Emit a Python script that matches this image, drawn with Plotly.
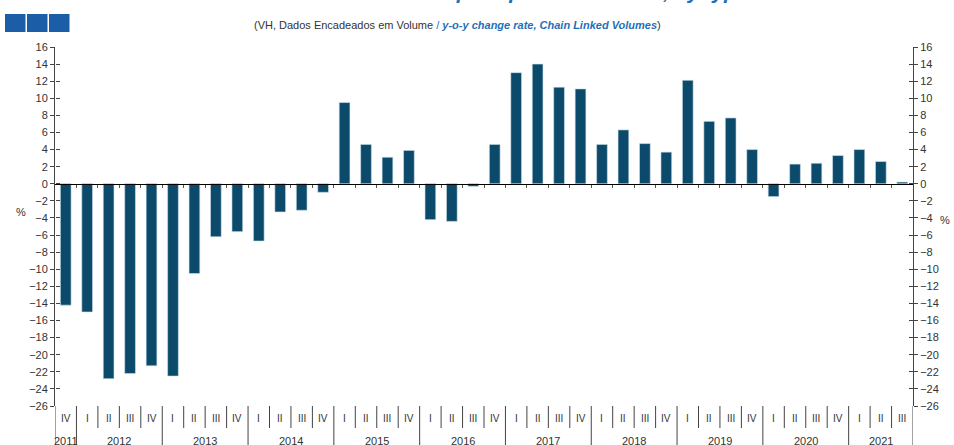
import plotly.graph_objects as go

years = ["2011", "2012", "2013", "2014", "2015", "2016", "2017", "2018", "2019", "2020", "2021"]
quarters = ["IV",
            "I", "II", "III", "IV",
            "I", "II", "III", "IV",
            "I", "II", "III", "IV",
            "I", "II", "III", "IV",
            "I", "II", "III", "IV",
            "I", "II", "III", "IV",
            "I", "II", "III", "IV",
            "I", "II", "III", "IV",
            "I", "II", "III", "IV",
            "I", "II", "III"]
values = [-14.2,
          -15.0, -22.8, -22.2, -21.3,
          -22.5, -10.5, -6.2, -5.6,
          -6.7, -3.3, -3.1, -1.0,
          9.5, 4.6, 3.1, 3.9,
          -4.2, -4.4, -0.3, 4.6,
          13.0, 14.0, 11.3, 11.1,
          4.6, 6.3, 4.7, 3.7,
          12.1, 7.3, 7.7, 4.0,
          -1.5, 2.3, 2.4, 3.3,
          4.0, 2.6, 0.2]
y_ticks = list(range(-26, 17, 2))

W, H = 954, 445
L, R, T, B = 55, 41, 47, 39
pw, ph = W - L - R, H - T - B
YMIN, YMAX = -26, 16
n = len(values)
xs = list(range(n))

def px_x(p):
    return (p - L) / pw

def px_y(p):
    return 1 + (T - p) / ph

BAR = "#0b4a6b"
BLUE = "#1f6fb8"
TXT = "#333333"
FONT = "Liberation Sans, Arial, sans-serif"

fig = go.Figure()
fig.add_trace(go.Bar(x=xs, y=values, marker=dict(color=BAR, line=dict(color="#cfe0ea", width=0.6)),
                     showlegend=False, hoverinfo="skip"))

zero_pos = (0 - YMIN) / (YMAX - YMIN)
boundaries = [i + 0.5 for i in range(n - 1)]

fig.update_layout(
    width=W, height=H,
    margin=dict(l=L, r=R, t=T, b=B),
    paper_bgcolor="white", plot_bgcolor="white",
    bargap=0.5,
    font=dict(family=FONT, color=TXT, size=11),
    xaxis=dict(range=[-0.5, n - 0.5], anchor="free", position=zero_pos,
               showgrid=False, zeroline=False, showline=True, linecolor="#000000", linewidth=1,
               tickmode="array", tickvals=boundaries, ticks="outside", ticklen=3,
               tickcolor="#555555", showticklabels=False, fixedrange=True),
    yaxis=dict(range=[YMIN, YMAX], tickmode="array", tickvals=y_ticks, showgrid=False,
               zeroline=False, showline=True, linecolor="#444444", linewidth=1,
               ticks="outside", ticklen=4, tickcolor="#444444",
               tickfont=dict(size=11, color=TXT)),
    yaxis2=dict(range=[YMIN, YMAX], overlaying="y", side="right", anchor="x",
                tickmode="array", tickvals=y_ticks, showgrid=False, zeroline=False,
                showline=True, linecolor="#444444", linewidth=1,
                ticks="outside", ticklen=4, tickcolor="#444444",
                tickfont=dict(size=11, color=TXT)),
    yaxis3=dict(range=[YMIN, YMAX], overlaying="y", side="left", anchor="free", position=0,
                tickmode="array", tickvals=y_ticks, showgrid=False, zeroline=False,
                showline=False, ticks="inside", ticklen=4, tickcolor="#444444",
                showticklabels=False),
    yaxis4=dict(range=[YMIN, YMAX], overlaying="y", side="right", anchor="free", position=1,
                tickmode="array", tickvals=y_ticks, showgrid=False, zeroline=False,
                showline=False, ticks="inside", ticklen=4, tickcolor="#444444",
                showticklabels=False),
)
# invisible traces to activate overlay axes
for ya in ["y2", "y3", "y4"]:
    fig.add_trace(go.Scatter(x=[0], y=[0], yaxis=ya, mode="markers",
                             marker=dict(opacity=0), showlegend=False, hoverinfo="skip"))

shapes = []
# axis lines extending below plot area
for xv in [-0.5, n - 0.5]:
    shapes.append(dict(type="line", xref="x", yref="paper", x0=xv, x1=xv, y0=0, y1=-0.2,
                       line=dict(color="#444444", width=1)))
# quarter / year separators
year_start = [0]
for i in range(1, n):
    if quarters[i] == "I":
        year_start.append(i)
for b in boundaries:
    is_year = (int(b + 0.5) in year_start)
    y1 = -0.2 if is_year else px_y(428)
    shapes.append(dict(type="line", xref="x", yref="paper", x0=b, x1=b, y0=0, y1=y1,
                       line=dict(color="#444444", width=1)))
# blue squares
for k in range(3):
    x0 = 5 + k * 22
    shapes.append(dict(type="rect", xref="paper", yref="paper",
                       x0=px_x(x0), x1=px_x(x0 + 20.5), y0=px_y(32), y1=px_y(14),
                       fillcolor="#1c5da8", line=dict(width=0)))
fig.update_layout(shapes=shapes)

annotations = []
for i, q in enumerate(quarters):
    annotations.append(dict(x=i, y=px_y(418), xref="x", yref="paper", text=q, showarrow=False,
                            font=dict(size=10, color=TXT), xanchor="center", yanchor="middle"))
year_end = year_start[1:] + [n]
for yname, s, e in zip(years, year_start, year_end):
    annotations.append(dict(x=(s + e - 1) / 2, y=px_y(441), xref="x", yref="paper", text=yname,
                            showarrow=False, font=dict(size=11, color=TXT),
                            xanchor="center", yanchor="middle"))
annotations.append(dict(x=px_x(14), y=px_y(212), xref="paper", yref="paper", text="%",
                        showarrow=False, font=dict(size=11, color=TXT)))
annotations.append(dict(x=px_x(952), y=px_y(220), xref="paper", yref="paper", text="%",
                        showarrow=False, font=dict(size=11, color=TXT)))
annotations.append(dict(x=px_x(457), y=px_y(25), xref="paper", yref="paper",
                        text=("(VH, Dados Encadeados em Volume "
                              f"<span style='color:{BLUE}'>/ <b><i>y-o-y change rate, Chain Linked Volumes</i></b></span>)"),
                        showarrow=False, font=dict(size=11, color=TXT),
                        xanchor="center", yanchor="middle"))
annotations.append(dict(x=px_x(478), y=px_y(8), yshift=3, xref="paper", yref="paper",
                        text="<b><i>Gráfico 4 – Investimento por tipo / Investment, by type</i></b>",
                        showarrow=False, font=dict(size=21, color=BLUE),
                        xanchor="center", yanchor="bottom"))
fig.update_layout(annotations=annotations)

fig.write_html("out.html", config={"displayModeBar": False},
               post_script="document.body.style.margin='0';document.body.style.overflow='hidden';")
